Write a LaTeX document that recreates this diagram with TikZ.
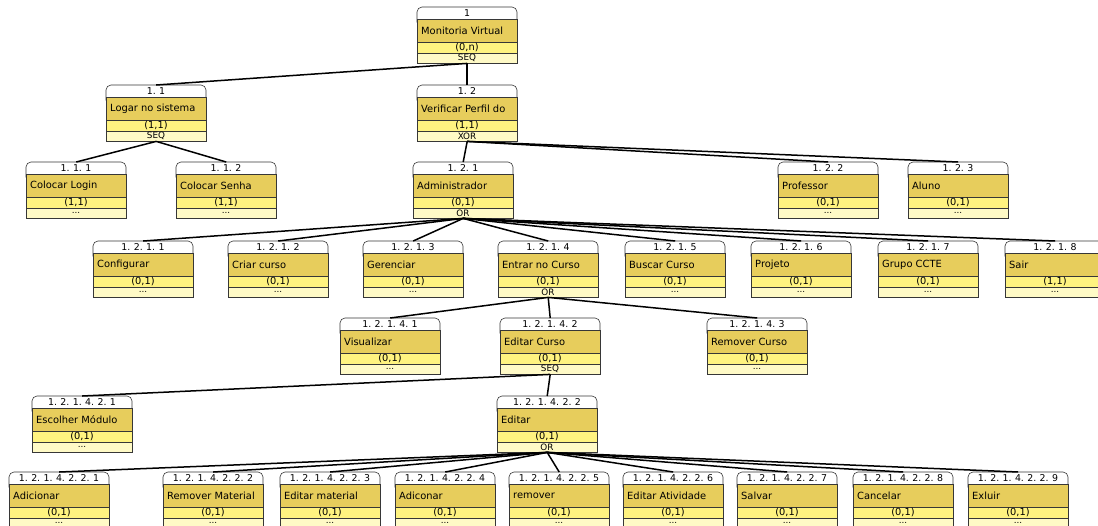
\documentclass[tikz,border=0pt]{standalone}
\usepackage{fontspec}
\setmainfont{DejaVu Sans}
\usetikzlibrary{calc}
\definecolor{namec}{RGB}{231,205,92}
\definecolor{cardc}{RGB}{255,243,128}
\definecolor{opc}{RGB}{255,250,198}
\definecolor{bordc}{RGB}{55,55,55}
\def\hdlab#1{\hdloop#1\relax}
\def\hdloop#1{\ifx\relax#1\else\hdchar{#1}\expandafter\hdloop\fi}
\def\hdchar#1{\if.#1.\kern3.4pt\else#1\fi}
\tikzset{
  numtxt/.style={font=\fontsize{9.4}{10}\selectfont, inner sep=0pt},
  nametxt/.style={font=\fontsize{9.9}{11}\selectfont, inner sep=0pt, anchor=west},
  cardtxt/.style={font=\fontsize{9.8}{10}\selectfont, inner sep=0pt},
  optxt/.style={font=\fontsize{8.8}{9}\selectfont, inner sep=0pt},
  border/.style={draw=bordc, line width=0.6pt},
  conn/.style={line width=1.5pt, black},
  fbox/.style={inner sep=0pt, minimum width=100pt, minimum height=56pt, anchor=north west}
}
% #1 name, #2 left x, #3 top y, #4 number, #5 label, #6 cardinality, #7 operator
\newcommand\featnode[7]{%
  \node[fbox] (#1) at (#2,#3) {};
  \filldraw[border, fill=white, rounded corners=5pt] (#2,#3+20) -- (#2,#3) -- (#2+100,#3) -- (#2+100,#3+20) -- cycle;
  \filldraw[border, fill=namec] (#2,#3+12) rectangle (#2+100,#3+35);
  \filldraw[border, fill=cardc] (#2,#3+35) rectangle (#2+100,#3+46);
  \filldraw[border, fill=opc] (#2,#3+46) rectangle (#2+100,#3+56);
  \node[numtxt] (#1-num) at (#2+50,#3+6.5) {\hdlab{#4}};
  \node[nametxt] (#1-name) at (#2+4,#3+23.5) {#5};
  \node[cardtxt] (#1-card) at (#2+50,#3+40.5) {#6};
  \node[optxt] (#1-op) at (#2+50,#3+51) {#7};
}
\begin{document}
\begin{tikzpicture}[x=1pt,y=-1pt]
\useasboundingbox (0,0) rectangle (1098,525);
\fill[white] (0,0) rectangle (1098,525);
\clip (0,0) rectangle (1098,525);
% row 0
\featnode{n1}{417}{7}{1}{Monitoria Virtual}{(0,n)}{SEQ}
% row 1
\featnode{n11}{106}{85}{1.1}{Logar no sistema}{(1,1)}{SEQ}
\featnode{n12}{417}{85}{1.2}{Verificar Perfil do}{(1,1)}{XOR}
% row 2
\featnode{n111}{26}{162}{1.1.1}{Colocar Login}{(1,1)}{...}
\featnode{n112}{176}{162}{1.1.2}{Colocar Senha}{(1,1)}{...}
\featnode{n121}{413}{162}{1.2.1}{Administrador}{(0,1)}{OR}
\featnode{n122}{778}{162}{1.2.2}{Professor}{(0,1)}{...}
\featnode{n123}{908}{162}{1.2.3}{Aluno}{(0,1)}{...}
% row 3
\featnode{n1211}{93}{241}{1.2.1.1}{Configurar}{(0,1)}{...}
\featnode{n1212}{228}{241}{1.2.1.2}{Criar curso}{(0,1)}{...}
\featnode{n1213}{363}{241}{1.2.1.3}{Gerenciar}{(0,1)}{...}
\featnode{n1214}{498}{241}{1.2.1.4}{Entrar no Curso}{(0,1)}{OR}
\featnode{n1215}{625}{241}{1.2.1.5}{Buscar Curso}{(0,1)}{...}
\featnode{n1216}{751}{241}{1.2.1.6}{Projeto}{(0,1)}{...}
\featnode{n1217}{878}{241}{1.2.1.7}{Grupo CCTE}{(0,1)}{...}
\featnode{n1218}{1005}{241}{1.2.1.8}{Sair}{(1,1)}{...}
% row 4
\featnode{n12141}{340}{318}{1.2.1.4.1}{Visualizar}{(0,1)}{...}
\featnode{n12142}{500}{318}{1.2.1.4.2}{Editar Curso}{(0,1)}{SEQ}
\featnode{n12143}{707}{318}{1.2.1.4.3}{Remover Curso}{(0,1)}{...}
% row 5
\featnode{n121421}{32}{396}{1.2.1.4.2.1}{Escolher Módulo}{(0,1)}{...}
\featnode{n121422}{497}{396}{1.2.1.4.2.2}{Editar}{(0,1)}{OR}
% row 6
\featnode{e1}{9}{472}{1.2.1.4.2.2.1}{Adicionar}{(0,1)}{...}
\featnode{e2}{163}{472}{1.2.1.4.2.2.2}{Remover Material}{(0,1)}{...}
\featnode{e3}{280}{472}{1.2.1.4.2.2.3}{Editar material}{(0,1)}{...}
\featnode{e4}{395}{472}{1.2.1.4.2.2.4}{Adiconar}{(0,1)}{...}
\featnode{e5}{509}{472}{1.2.1.4.2.2.5}{remover}{(0,1)}{...}
\featnode{e6}{623}{472}{1.2.1.4.2.2.6}{Editar Atividade}{(0,1)}{...}
\featnode{e7}{737}{472}{1.2.1.4.2.2.7}{Salvar}{(0,1)}{...}
\featnode{e8}{853}{472}{1.2.1.4.2.2.8}{Cancelar}{(0,1)}{...}
\featnode{e9}{968}{472}{1.2.1.4.2.2.9}{Exluir}{(0,1)}{...}
% connectors
\foreach \c in {n11,n12} \draw[conn] (n1.south) -- (\c.north);
\foreach \c in {n111,n112} \draw[conn] (n11.south) -- (\c.north);
\foreach \c in {n121,n122,n123} \draw[conn] (n12.south) -- (\c.north);
\foreach \c in {n1211,n1212,n1213,n1214,n1215,n1216,n1217,n1218} \draw[conn] (n121.south) -- (\c.north);
\foreach \c in {n12141,n12142,n12143} \draw[conn] (n1214.south) -- (\c.north);
\foreach \c in {n121421,n121422} \draw[conn] (n12142.south) -- (\c.north);
\foreach \c in {e1,e2,e3,e4,e5,e6,e7,e8,e9} \draw[conn] (n121422.south) -- (\c.north);
\end{tikzpicture}
\end{document}
